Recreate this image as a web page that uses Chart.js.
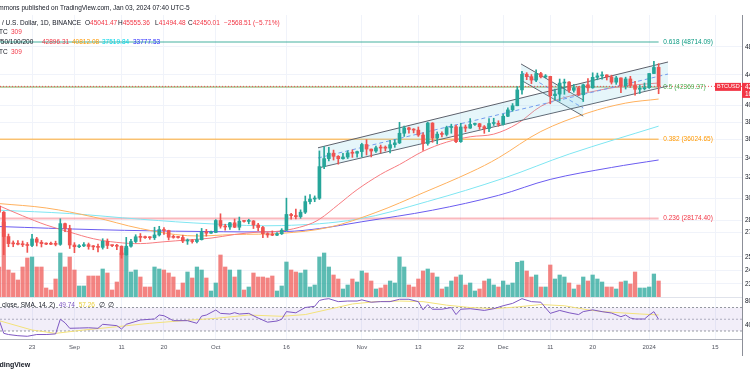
<!DOCTYPE html>
<html>
<head>
<meta charset="utf-8">
<title>BTCUSD 1D</title>
<script src="https://cdn.jsdelivr.net/npm/chart.js@4.4.1/dist/chart.umd.min.js"></script>
<style>
  html, body { margin: 0; padding: 0; background: #fff; }
  #wrap { position: relative; width: 750px; height: 375px; overflow: hidden; }
  #graph { position: absolute; left: 0; top: 0; }
  .t { position: absolute; white-space: pre; font-family: "Liberation Sans", Arial, sans-serif; font-size: 6.5px; line-height: 8px; color: #131722; }
  .red { color: #f23645; }
  .org { color: #ff9800; }
  .cyn { color: #00d5e8; }
  .blu { color: #2a2aff; }
  .pur { color: #7e57c2; }
  .yel { color: #e8cf3a; }
  .logo { font-size: 7px; font-weight: bold; }
</style>
</head>
<body>
<div id="wrap">
  <canvas id="graph" width="800" height="356"></canvas>
  <div class="t" style="left:-10px;top:4px">Commons published on TradingView.com, Jan 03, 2024 07:40 UTC-5</div>
  <div class="t" style="left:2px;top:19px">/ U.S. Dollar, 1D, BINANCE</div>
  <div class="t" style="left:85px;top:19px">O<span class="red">45041.47</span></div>
  <div class="t" style="left:118px;top:19px">H<span class="red">45555.36</span></div>
  <div class="t" style="left:155px;top:19px">L<span class="red">41494.48</span></div>
  <div class="t" style="left:188px;top:19px">C<span class="red">42450.01</span></div>
  <div class="t red" style="left:224px;top:19px">−2568.51 (−5.71%)</div>
  <div class="t" style="left:-1px;top:28px">TC</div>
  <div class="t red" style="left:11px;top:28px">309</div>
  <div class="t" style="left:-1px;top:38px">/50/100/200</div>
  <div class="t red" style="left:42px;top:38px">42896.31</div>
  <div class="t org" style="left:72px;top:38px">40812.08</div>
  <div class="t cyn" style="left:102px;top:38px">37519.84</div>
  <div class="t blu" style="left:133px;top:38px">33777.53</div>
  <div class="t" style="left:-1px;top:48px">TC</div>
  <div class="t red" style="left:11px;top:48px">309</div>
  <div class="t" style="left:2px;top:301px">close, SMA, 14, 2)  <span class="pur">49.74</span>  <span class="yel">57.26</span>  ∅  ∅</div>
  <div class="t logo" style="left:-11px;top:361px">TradingView</div>
</div>
<script>
// daily candles, 16 Aug 2023 (index 0) .. 3 Jan 2024 (index 140)
const opens = [
  29280, 28720, 26630, 26050, 26030, 26000, 25960, 25900, 26430, 26160,
  26050, 26010, 26000, 25990, 27720, 27300, 25940, 25800, 25870, 25970,
  25820, 25790, 25750, 26240, 25900, 25890, 25840, 25160, 25840, 26220,
  26610, 26560, 26540, 26530, 26760, 27210, 27130, 26570, 26560, 26550,
  26260, 26300, 26220, 26370, 27030, 26910, 26970, 27990, 27500, 27430,
  27790, 27410, 27930, 27910, 27950, 27600, 27390, 26870, 26760, 26740,
  26860, 27160, 28520, 28420, 28330, 28720, 29680, 29920, 29990, 33090,
  33920, 34500, 34160, 33910, 34090, 34530, 34490, 34670, 35440, 34940,
  34730, 35080, 35050, 35040, 35420, 35620, 36700, 37320, 37130, 37060,
  36500, 35550, 37880, 36160, 36600, 36570, 37360, 37450, 35750, 37420,
  37290, 37720, 37800, 37450, 37240, 37830, 37850, 37720, 38690, 39460,
  39970, 41990, 44080, 43750, 43290, 44170, 43720, 43790, 41240, 41450,
  42890, 43020, 41940, 42260, 41360, 42660, 42260, 43660, 43860, 43990,
  43720, 43010, 43580, 42520, 43440, 42580, 42070, 42140, 42280, 44180,
  45041.47
];
const highs = [
  29490, 28780, 26840, 26270, 26290, 26260, 26140, 26810, 26560, 26310,
  26110, 26180, 26250, 28140, 27760, 27580, 26130, 25980, 26130, 26100,
  25900, 26020, 26450, 26430, 25940, 26000, 25870, 26560, 26400, 26780,
  26880, 26670, 26620, 27410, 27490, 27380, 27160, 26740, 26640, 26740,
  26430, 26390, 26830, 27310, 27230, 27090, 28070, 28580, 27670, 27840,
  28120, 28290, 28000, 28100, 27990, 27740, 27480, 26950, 27100, 26950,
  27290, 30000, 28620, 28990, 28930, 30200, 30330, 30210, 34740, 35200,
  35130, 34830, 34240, 34470, 34750, 34850, 34720, 35580, 35980, 34950,
  35260, 35380, 35280, 35890, 35980, 37970, 37530, 37410, 37230, 37420,
  36760, 37980, 37930, 36850, 36850, 37520, 37750, 37650, 37860, 37650,
  38420, 37890, 37840, 37590, 38400, 38450, 38150, 38950, 39700, 40250,
  42420, 44490, 44300, 44050, 44700, 44360, 44040, 43810, 42100, 43430,
  43420, 43090, 42700, 42430, 42750, 43490, 44280, 44240, 44400, 44020,
  43950, 43800, 43600, 43680, 43800, 43120, 42600, 42900, 44180, 45880,
  45555.36
];
const lows = [
  28700, 25170, 25800, 25800, 25950, 25810, 25350, 25800, 25860, 25780,
  25970, 25960, 25870, 25910, 27030, 25660, 25330, 25720, 25810, 25600,
  25560, 25380, 25610, 25650, 25800, 25570, 24900, 25130, 25760, 26130,
  26220, 26470, 26400, 26380, 26670, 26800, 26350, 26490, 26500, 26130,
  25990, 26090, 26110, 26340, 26660, 26880, 26950, 27330, 27160, 27220,
  27370, 27180, 27840, 27700, 27300, 27120, 26540, 26560, 26700, 26700,
  26800, 27110, 28100, 28130, 28180, 28600, 29470, 29670, 29880, 32880,
  33690, 33770, 33340, 33860, 33930, 34050, 34080, 34100, 34300, 34100,
  34580, 34530, 34740, 34520, 35130, 35540, 36340, 36710, 36740, 36340,
  34800, 35360, 35680, 35500, 36290, 36390, 36700, 35630, 35670, 36870,
  37250, 37600, 37150, 36690, 36870, 37600, 37500, 37620, 38650, 39300,
  39970, 41420, 43340, 42820, 43080, 43580, 43580, 40220, 40680, 40560,
  41420, 41670, 41690, 41250, 40500, 41800, 42200, 43330, 43400, 43300,
  42760, 42720, 41640, 42100, 42300, 41300, 41520, 41970, 42180, 44150,
  41494.48
];
const closes = [
  28720, 26630, 26050, 26030, 26000, 25960, 25900, 26430, 26160, 26050,
  26010, 26000, 25990, 27720, 27300, 25940, 25800, 25870, 25970, 25820,
  25790, 25750, 26240, 25900, 25890, 25840, 25160, 25840, 26220, 26610,
  26560, 26540, 26530, 26760, 27210, 27130, 26570, 26560, 26550, 26260,
  26300, 26220, 26370, 27030, 26910, 26970, 27990, 27500, 27430, 27790,
  27410, 27930, 27910, 27950, 27600, 27390, 26870, 26760, 26740, 26860,
  27160, 28520, 28420, 28330, 28720, 29680, 29920, 29990, 33090, 33920,
  34500, 34160, 33910, 34090, 34530, 34490, 34670, 35440, 34940, 34730,
  35080, 35050, 35040, 35420, 35620, 36700, 37320, 37130, 37060, 36500,
  35550, 37880, 36160, 36600, 36570, 37360, 37450, 35750, 37420, 37290,
  37720, 37800, 37450, 37240, 37830, 37850, 37720, 38690, 39460, 39970,
  41990, 44080, 43750, 43290, 44170, 43720, 43790, 41240, 41450, 42890,
  43020, 41940, 42260, 41360, 42660, 42260, 43660, 43860, 43990, 43720,
  43010, 43580, 42520, 43440, 42580, 42070, 42140, 42280, 44180, 45020,
  42450.01
];
// volume, thousand BTC
const volumes = [
  45, 112.5, 40.5, 36, 25.5, 45, 58.5, 60, 45, 45,
  13.5, 10.5, 27, 66, 45, 60, 40.5, 16.5, 16.5, 31.5,
  31.5, 31.5, 42, 36, 10.5, 22.5, 66, 73.5, 37.5, 40.5,
  30, 15, 15, 45, 42, 40.5, 36, 30, 10.5, 21,
  37.5, 28.5, 45, 40.5, 28.5, 9, 21, 63, 45, 40.5,
  30, 40.5, 10.5, 15, 36, 30, 30, 28.5, 31.5, 9,
  16.5, 52.5, 40.5, 37.5, 36, 40.5, 15, 18, 60, 66,
  45, 33, 27, 12, 18, 27, 22.5, 39, 36, 24,
  12, 13.5, 18, 24, 21, 60, 45, 18, 15, 27,
  39, 42, 36, 30, 12, 15, 24, 30, 33, 18,
  21, 9, 12, 24, 27, 18, 15, 24, 18, 21,
  52, 54, 39, 30, 33, 15, 15, 48, 27, 33,
  30, 21, 12, 18, 30, 24, 33, 27, 22.5, 15,
  15, 12, 22.5, 24, 19.5, 37.5, 13.5, 13.5, 15, 34.5,
  24
];

// moving averages: [day index, value]
const ma20 = [[0,29300],[5,28400],[10,27600],[15,27000],[20,26450],[25,26150],[30,26050],[35,26200],[40,26350],[45,26500],[50,26800],[55,27000],[60,27100],[65,27550],[68,28100],[72,29400],[76,30800],[81,32300],[85,33300],[90,34700],[95,35700],[100,36300],[105,36600],[110,37800],[115,39900],[120,41000],[125,41650],[130,42250],[135,42650],[140,42896.31]];
const ma50 = [[0,29500],[10,29100],[20,28300],[30,27300],[40,26700],[50,26800],[60,26900],[70,27400],[80,28700],[90,30500],[100,32500],[106,34000],[115,36900],[125,39100],[133,40300],[140,40812.08]];
const ma100 = [[0,28900],[15,28600],[30,28100],[45,27700],[60,27550],[76,28100],[91,29700],[107,31900],[121,34400],[140,37519.84]];
const ma200 = [[0,27470],[21,27200],[43,27050],[61,27050],[68,27300],[77,27880],[92,28900],[106,30260],[117,31800],[130,33000],[140,33777.53]];

// RSI(14) and its SMA: [day index, value]
const rsi = [[0,48.7],[1,26],[2,24],[4,22],[6,21],[8,24],[10,24],[12,25],[13,50],[14,44],[15,34.6],[17,35],[19,35.5],[21,34.6],[22,41.4],[25,39.1],[26,33.4],[27,41.4],[30,48.7],[33,50.5],[34,57.2],[35,56],[37,47.6],[40,47.6],[42,43.1],[43,55.4],[44,57.2],[46,65.7],[47,60],[49,58.9],[50,61.2],[51,58.9],[53,60],[55,52],[57,45],[59,47],[60,50],[61,63],[63,61],[65,70],[67,72],[68,82],[69,84],[70,85],[72,80],[74,81],[76,81],[77,83],[79,79],[81,80],[83,80],[85,84],[87,84],[89,80],[90,66],[91,75],[92,67],[94,67],[96,70],[97,58],[98,67],[100,68],[103,65],[105,68],[107,73],[109,77],[111,85],[113,80],[115,79],[117,60],[119,65],[121,61],[123,58],[124,63],[126,66],[128,62.9],[130,60.6],[132,54.3],[133,57.2],[134,52.1],[135,50.4],[137,50.4],[138,57.2],[139,62.9],[140,49.74]];
const rsiMa = [[0,47.6],[7,31.7],[12,26],[18,31.7],[25,37.3],[32,43.1],[39,47.6],[46,51.6],[53,57.2],[60,55],[65,58],[70,67],[75,76],[80,80],[85,81],[90,80],[95,74],[100,70],[105,68],[110,71],[115,75],[120,73],[125,66],[128,63],[132,61],[136,59],[140,57.26]];

// fibonacci retracement levels
const fibLevels = ['0.618', '0.5', '0.382', '0.236'];
const fibPrices = [48714.09, 42369.37, 36024.65, 28174.40];
const fibLine = ['rgba(8,153,129,0.5)', 'rgba(110,150,60,0.6)', 'rgba(255,152,0,0.55)', 'rgba(242,54,69,0.35)'];
const fibText = ['#089981', '#4caf50', '#ff9800', '#f23645'];

// channel drawings: [day index, price]
const chanUp = [[67.7,35080],[142,45790]];
const chanMid = [[67.7,33990],[142,44110]];
const chanLo = [[67.7,32940],[142,42500]];
const descUp = [[110.8,45510],[124,40700]];
const descMid = [[110.8,44380],[124,39690]];
const descLo = [[110.8,43280],[124,38710]];

// axes
const tickDays = [7, 16, 26, 35, 46, 61, 77, 89, 98, 107, 117, 126, 138, 152];
const tickText = ['23', 'Sep', '11', '20', 'Oct', '16', 'Nov', '13', '22', 'Dec', '11', '20', '2024', '15'];
const priceTicks = [48000, 44000, 40000, 38000, 36000, 34000, 32000, 30000, 28000, 27000, 25000, 24000, 23000];
const rsiTicks = [80, 40];

const FONT = '"Liberation Sans", Arial, sans-serif';
const GREEN = '#26a69a', RED = '#ef5350';
const xMin = 0.2, xMax = 157.7;
const lastDay = closes.length - 1;
const lastClose = closes[lastDay];

const up = closes.map((c, i) => c >= opens[i]);
const candleColors = up.map(u => u ? GREEN : RED);
const volColors = up.map(u => u ? 'rgba(38,166,154,0.75)' : 'rgba(239,83,80,0.72)');

const pts = arr => arr.map(p => ({x: p[0], y: p[1]}));
const flat = v => [{x: xMin, y: v}, {x: xMax, y: v}];
const line = (data, color, extra) => Object.assign({
  type: 'line', data: data, borderColor: color, borderWidth: 1,
  pointRadius: 0, fill: false, tension: 0, yAxisID: 'y'
}, extra);

const datasets = [
  {type: 'bar', data: opens.map((o, i) => ({x: i, y: [o, closes[i]]})), backgroundColor: candleColors,
   barThickness: 3, minBarLength: 1, grouped: false, yAxisID: 'y', order: 0},
  {type: 'bar', data: lows.map((l, i) => ({x: i, y: [l, highs[i]]})), backgroundColor: candleColors,
   barThickness: 1, grouped: false, yAxisID: 'y', order: 1},
  line(flat(lastClose), 'rgba(242,54,69,0.85)', {borderDash: [1, 2], order: 2}),
  line(pts(chanUp), '#5d606b', {fill: '+1', backgroundColor: 'rgba(128,210,230,0.2)', order: 3}),
  line(pts(chanLo), '#5d606b', {order: 3}),
  line(pts(chanMid), '#6f8ff0', {borderDash: [4, 3], order: 3}),
  line(pts(descUp), '#5d606b', {fill: '+1', backgroundColor: 'rgba(128,210,230,0.2)', order: 3}),
  line(pts(descLo), '#5d606b', {order: 3}),
  line(pts(descMid), '#6f8ff0', {borderDash: [4, 3], order: 3}),
  line(pts(ma20), '#f77c80', {tension: 0.35, order: 4}),
  line(pts(ma50), '#ffb15e', {tension: 0.35, order: 4}),
  line(pts(ma100), '#7fe6f2', {tension: 0.35, order: 4}),
  line(pts(ma200), '#6b5cf0', {tension: 0.35, order: 4})
];
fibPrices.forEach((p, i) => {
  datasets.push(line([{x: xMin - 1, y: p}, {x: lastDay, y: p}], fibLine[i], {borderWidth: i === 3 ? 2 : 1.5, order: 5}));
});
datasets.push(
  line(pts(rsi), '#7e57c2', {yAxisID: 'yRsi', order: 2}),
  line(pts(rsiMa), '#f3e27a', {yAxisID: 'yRsi', order: 2}),
  line(flat(70), '#9598a1', {yAxisID: 'yRsi', borderDash: [2, 2], order: 6}),
  line(flat(30), '#9598a1', {yAxisID: 'yRsi', borderDash: [2, 2], fill: '-1', backgroundColor: 'rgba(126,87,194,0.1)', order: 6}),
  line(flat(50), '#b2b5be', {yAxisID: 'yRsi', borderDash: [2, 2], order: 6}),
  {type: 'bar', data: volumes.map((v, i) => ({x: i, y: v})), backgroundColor: volColors,
   barThickness: 3.6, grouped: false, yAxisID: 'yVol', order: 7}
);

const overlay = {
  id: 'overlay',
  afterDraw(chart) {
    const {ctx} = chart;
    const x = chart.scales.x, y = chart.scales.y, r = chart.scales.yRsi;
    ctx.save();
    // pane separator and axis border below the panes
    const sep = Math.round(r.getPixelForValue(87.87)) + 0.5;
    ctx.strokeStyle = '#e0e3eb';
    ctx.lineWidth = 1;
    ctx.beginPath(); ctx.moveTo(0, sep); ctx.lineTo(742, sep); ctx.stroke();
    ctx.strokeStyle = '#8c8f98';
    ctx.beginPath(); ctx.moveTo(742.5, chart.chartArea.bottom); ctx.lineTo(742.5, 356); ctx.stroke();
    ctx.font = '6.5px ' + FONT;
    ctx.textBaseline = 'middle';
    // fib labels
    fibPrices.forEach((p, i) => {
      ctx.fillStyle = fibText[i];
      ctx.fillText(fibLevels[i] + ' (' + p.toFixed(2) + ')', x.getPixelForValue(lastDay + 1), y.getPixelForValue(p));
    });
    // RSI scale labels
    ctx.fillStyle = '#131722';
    rsiTicks.forEach(v => ctx.fillText(v.toFixed(2), 745, r.getPixelForValue(v)));
    // last price tag
    const py = y.getPixelForValue(lastClose);
    ctx.fillStyle = '#f23645';
    ctx.fillRect(715, py - 3.5, 26, 8);
    ctx.fillRect(742, py - 3.5, 58, 15);
    ctx.fillStyle = '#fff';
    ctx.font = '5.5px ' + FONT;
    ctx.fillText('BTCUSD', 717, py + 0.5);
    ctx.font = '6.5px ' + FONT;
    ctx.fillText(lastClose.toFixed(2), 745, py + 0.5);
    ctx.fillText('16:19:52', 745, py + 7.5);
    ctx.restore();
  }
};

new Chart(document.getElementById('graph').getContext('2d'), {
  type: 'bar',
  data: {datasets: datasets},
  options: {
    responsive: false,
    animation: false,
    devicePixelRatio: 1,
    layout: {padding: {top: 15, left: 0, right: 0, bottom: 0}},
    plugins: {legend: {display: false}, tooltip: {enabled: false}},
    scales: {
      x: {
        type: 'linear', min: xMin, max: xMax, offset: false,
        afterBuildTicks: s => { s.ticks = tickDays.map(v => ({value: v})); },
        afterFit: s => { s.height = 17; },
        ticks: {
          autoSkip: false, maxRotation: 0, padding: 5, color: '#50535e',
          font: {size: 6, family: FONT},
          callback: v => tickText[tickDays.indexOf(v)]
        },
        grid: {color: '#f0f3fa', drawTicks: false, offset: false},
        border: {color: '#b2b5be'}
      },
      y: {
        type: 'logarithmic', position: 'right', min: 19372, max: 52985,
        afterBuildTicks: s => { s.ticks = priceTicks.map(v => ({value: v})); },
        afterFit: s => { s.width = 58; },
        ticks: {
          autoSkip: false, padding: 3, color: '#131722',
          font: {size: 6.5, family: FONT},
          callback: v => Number(v).toFixed(2)
        },
        grid: {color: '#f0f3fa', drawTicks: false},
        border: {color: '#8c8f98'}
      },
      yRsi: {type: 'linear', axis: 'y', position: 'right', display: false, min: 16.38, max: 567.9},
      yVol: {type: 'linear', axis: 'y', position: 'right', display: false, min: -63, max: 423}
    }
  },
  plugins: [overlay]
});
</script>
</body>
</html>
